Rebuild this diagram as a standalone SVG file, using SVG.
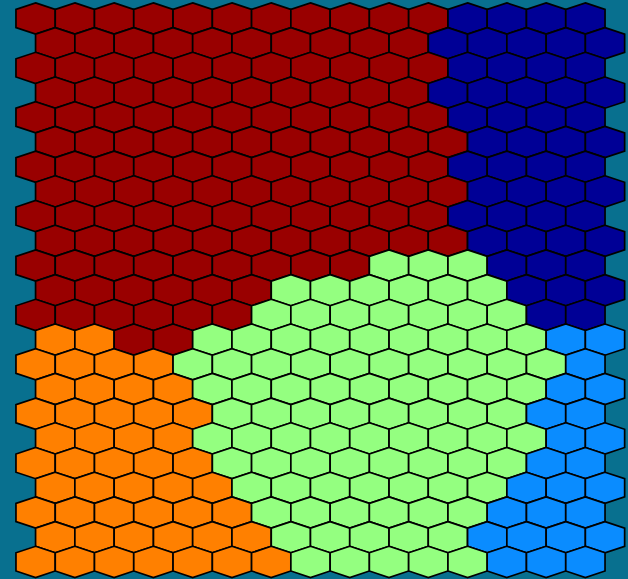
<svg xmlns="http://www.w3.org/2000/svg" xmlns:xlink="http://www.w3.org/1999/xlink" width="628" height="579" viewBox="0 0 628 579">
<style>
.r{fill:#990000}
.b{fill:#000096}
.g{fill:#94ff80}
.o{fill:#ff8000}
.l{fill:#0a8cff}
</style>
<defs>
<path id="h" d="M0,-15.6 L19.64,-9.1 L19.64,9.1 L0,15.6 L-19.64,9.1 L-19.64,-9.1 Z" stroke="#000" stroke-width="1.7" stroke-linejoin="miter"/>
<g id="rowA">
<g class="r"><use href="#h" x="35.6"/><use href="#h" x="74.9"/><use href="#h" x="114.1"/><use href="#h" x="153.4"/><use href="#h" x="192.7"/><use href="#h" x="232"/><use href="#h" x="271.2"/><use href="#h" x="310.5"/><use href="#h" x="349.8"/><use href="#h" x="389"/><use href="#h" x="428.3"/></g>
<g class="b"><use href="#h" x="467.6"/><use href="#h" x="506.8"/><use href="#h" x="546.1"/><use href="#h" x="585.4"/></g>
</g>
<g id="rowB">
<g class="r"><use href="#h" x="55.2"/><use href="#h" x="94.5"/><use href="#h" x="133.8"/><use href="#h" x="173.1"/><use href="#h" x="212.3"/><use href="#h" x="251.6"/><use href="#h" x="290.9"/><use href="#h" x="330.1"/><use href="#h" x="369.4"/><use href="#h" x="408.7"/></g>
<g class="b"><use href="#h" x="447.9"/><use href="#h" x="487.2"/><use href="#h" x="526.5"/><use href="#h" x="565.8"/><use href="#h" x="605"/></g>
</g>
<g id="rowC">
<g class="r"><use href="#h" x="55.2"/><use href="#h" x="94.5"/><use href="#h" x="133.8"/><use href="#h" x="173.1"/><use href="#h" x="212.3"/><use href="#h" x="251.6"/><use href="#h" x="290.9"/><use href="#h" x="330.1"/><use href="#h" x="369.4"/><use href="#h" x="408.7"/><use href="#h" x="447.9"/></g>
<g class="b"><use href="#h" x="487.2"/><use href="#h" x="526.5"/><use href="#h" x="565.8"/><use href="#h" x="605"/></g>
</g>
<g id="rowP">
<g class="o"><use href="#h" x="55.2"/><use href="#h" x="94.5"/><use href="#h" x="133.8"/><use href="#h" x="173.1"/></g>
<g class="g"><use href="#h" x="212.3"/><use href="#h" x="251.6"/><use href="#h" x="290.9"/><use href="#h" x="330.1"/><use href="#h" x="369.4"/><use href="#h" x="408.7"/><use href="#h" x="447.9"/><use href="#h" x="487.2"/><use href="#h" x="526.5"/></g>
<g class="l"><use href="#h" x="565.8"/><use href="#h" x="605"/></g>
</g>
<g id="rowQ">
<g class="o"><use href="#h" x="35.6"/><use href="#h" x="74.9"/><use href="#h" x="114.1"/><use href="#h" x="153.4"/><use href="#h" x="192.7"/></g>
<g class="g"><use href="#h" x="232"/><use href="#h" x="271.2"/><use href="#h" x="310.5"/><use href="#h" x="349.8"/><use href="#h" x="389"/><use href="#h" x="428.3"/><use href="#h" x="467.6"/><use href="#h" x="506.8"/></g>
<g class="l"><use href="#h" x="546.1"/><use href="#h" x="585.4"/></g>
</g>
</defs>
<rect x="0" y="0" width="628" height="579" fill="#08708f"/>
<g id="map">
<use id="row0" href="#rowA" y="18.5"/>
<use id="row1" href="#rowB" y="43.2"/>
<use id="row2" href="#rowA" y="67.9"/>
<use id="row3" href="#rowB" y="92.6"/>
<use id="row4" href="#rowA" y="117.3"/>
<use id="row5" href="#rowC" y="142"/>
<use id="row6" href="#rowA" y="166.7"/>
<use id="row7" href="#rowC" y="191.4"/>
<use id="row8" href="#rowA" y="216.1"/>
<use id="row9" href="#rowC" y="240.8"/>
<g id="row10" transform="translate(0,265.5)">
<g class="r"><use href="#h" x="35.6"/><use href="#h" x="74.9"/><use href="#h" x="114.1"/><use href="#h" x="153.4"/><use href="#h" x="192.7"/><use href="#h" x="232"/><use href="#h" x="271.2"/><use href="#h" x="310.5"/><use href="#h" x="349.8"/></g>
<g class="g"><use href="#h" x="389"/><use href="#h" x="428.3"/><use href="#h" x="467.6"/></g>
<g class="b"><use href="#h" x="506.8"/><use href="#h" x="546.1"/><use href="#h" x="585.4"/></g>
</g>
<g id="row11" transform="translate(0,290.2)">
<g class="r"><use href="#h" x="55.2"/><use href="#h" x="94.5"/><use href="#h" x="133.8"/><use href="#h" x="173.1"/><use href="#h" x="212.3"/><use href="#h" x="251.6"/></g>
<g class="g"><use href="#h" x="290.9"/><use href="#h" x="330.1"/><use href="#h" x="369.4"/><use href="#h" x="408.7"/><use href="#h" x="447.9"/><use href="#h" x="487.2"/></g>
<g class="b"><use href="#h" x="526.5"/><use href="#h" x="565.8"/><use href="#h" x="605"/></g>
</g>
<g id="row12" transform="translate(0,314.9)">
<g class="r"><use href="#h" x="35.6"/><use href="#h" x="74.9"/><use href="#h" x="114.1"/><use href="#h" x="153.4"/><use href="#h" x="192.7"/><use href="#h" x="232"/></g>
<g class="g"><use href="#h" x="271.2"/><use href="#h" x="310.5"/><use href="#h" x="349.8"/><use href="#h" x="389"/><use href="#h" x="428.3"/><use href="#h" x="467.6"/><use href="#h" x="506.8"/></g>
<g class="b"><use href="#h" x="546.1"/><use href="#h" x="585.4"/></g>
</g>
<g id="row13" transform="translate(0,339.6)">
<g class="o"><use href="#h" x="55.2"/><use href="#h" x="94.5"/></g>
<g class="r"><use href="#h" x="133.8"/><use href="#h" x="173.1"/></g>
<g class="g"><use href="#h" x="212.3"/><use href="#h" x="251.6"/><use href="#h" x="290.9"/><use href="#h" x="330.1"/><use href="#h" x="369.4"/><use href="#h" x="408.7"/><use href="#h" x="447.9"/><use href="#h" x="487.2"/><use href="#h" x="526.5"/></g>
<g class="l"><use href="#h" x="565.8"/><use href="#h" x="605"/></g>
</g>
<g id="row14" transform="translate(0,364.3)">
<g class="o"><use href="#h" x="35.6"/><use href="#h" x="74.9"/><use href="#h" x="114.1"/><use href="#h" x="153.4"/></g>
<g class="g"><use href="#h" x="192.7"/><use href="#h" x="232"/><use href="#h" x="271.2"/><use href="#h" x="310.5"/><use href="#h" x="349.8"/><use href="#h" x="389"/><use href="#h" x="428.3"/><use href="#h" x="467.6"/><use href="#h" x="506.8"/><use href="#h" x="546.1"/></g>
<g class="l"><use href="#h" x="585.4"/></g>
</g>
<use id="row15" href="#rowP" y="389"/>
<use id="row16" href="#rowQ" y="413.7"/>
<use id="row17" href="#rowP" y="438.4"/>
<use id="row18" href="#rowQ" y="463.1"/>
<g id="row19" transform="translate(0,487.8)">
<g class="o"><use href="#h" x="55.2"/><use href="#h" x="94.5"/><use href="#h" x="133.8"/><use href="#h" x="173.1"/><use href="#h" x="212.3"/></g>
<g class="g"><use href="#h" x="251.6"/><use href="#h" x="290.9"/><use href="#h" x="330.1"/><use href="#h" x="369.4"/><use href="#h" x="408.7"/><use href="#h" x="447.9"/><use href="#h" x="487.2"/></g>
<g class="l"><use href="#h" x="526.5"/><use href="#h" x="565.8"/><use href="#h" x="605"/></g>
</g>
<g id="row20" transform="translate(0,512.5)">
<g class="o"><use href="#h" x="35.6"/><use href="#h" x="74.9"/><use href="#h" x="114.1"/><use href="#h" x="153.4"/><use href="#h" x="192.7"/><use href="#h" x="232"/></g>
<g class="g"><use href="#h" x="271.2"/><use href="#h" x="310.5"/><use href="#h" x="349.8"/><use href="#h" x="389"/><use href="#h" x="428.3"/><use href="#h" x="467.6"/></g>
<g class="l"><use href="#h" x="506.8"/><use href="#h" x="546.1"/><use href="#h" x="585.4"/></g>
</g>
<g id="row21" transform="translate(0,537.2)">
<g class="o"><use href="#h" x="55.2"/><use href="#h" x="94.5"/><use href="#h" x="133.8"/><use href="#h" x="173.1"/><use href="#h" x="212.3"/><use href="#h" x="251.6"/></g>
<g class="g"><use href="#h" x="290.9"/><use href="#h" x="330.1"/><use href="#h" x="369.4"/><use href="#h" x="408.7"/><use href="#h" x="447.9"/></g>
<g class="l"><use href="#h" x="487.2"/><use href="#h" x="526.5"/><use href="#h" x="565.8"/><use href="#h" x="605"/></g>
</g>
<g id="row22" transform="translate(0,561.9)">
<g class="o"><use href="#h" x="35.6"/><use href="#h" x="74.9"/><use href="#h" x="114.1"/><use href="#h" x="153.4"/><use href="#h" x="192.7"/><use href="#h" x="232"/><use href="#h" x="271.2"/></g>
<g class="g"><use href="#h" x="310.5"/><use href="#h" x="349.8"/><use href="#h" x="389"/><use href="#h" x="428.3"/><use href="#h" x="467.6"/></g>
<g class="l"><use href="#h" x="506.8"/><use href="#h" x="546.1"/><use href="#h" x="585.4"/></g>
</g>
</g>
</svg>
